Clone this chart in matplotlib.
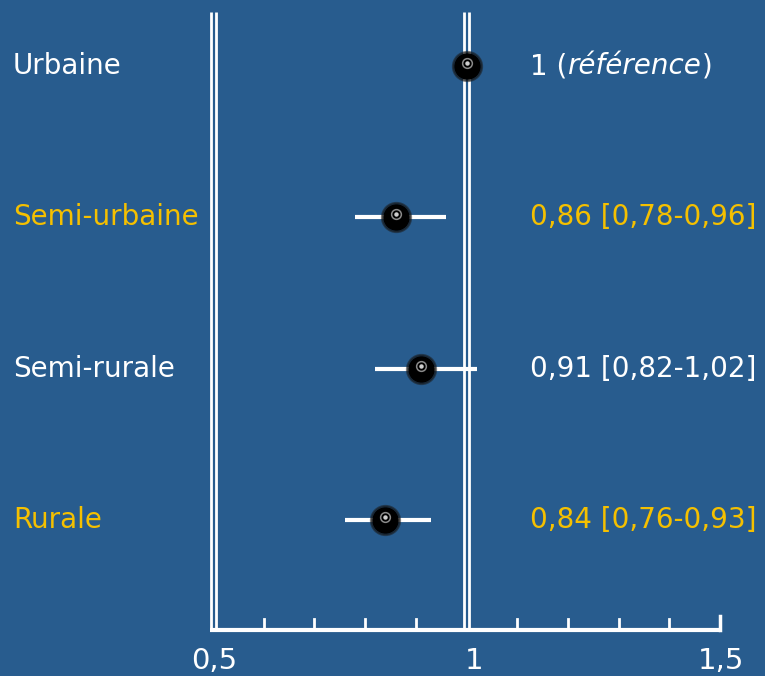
import numpy as np
import matplotlib
matplotlib.use("Agg")
from matplotlib import pyplot as plt

# odds ratios by area type
categories = ["Urbaine", "Semi-urbaine", "Semi-rurale", "Rurale"]
odds = [1.0, 0.86, 0.91, 0.84]
ci_low = [None, 0.78, 0.82, 0.76]
ci_high = [None, 0.96, 1.02, 0.93]
labels = ["1 (", "0,86 [0,78-0,96]", "0,91 [0,82-1,02]", "0,84 [0,76-0,93]"]
tick_values = [0.5, 1.0, 1.5]
tick_labels = ["0,5", "1", "1,5"]
minor_ticks = [0.6, 0.7, 0.8, 0.9, 1.1, 1.2, 1.3, 1.4]

bg = "#285c8e"
yellow = "#f5c000"
row_colors = ["white", yellow, "white", yellow]
fs = 20

W, H = 765, 676
fig = plt.figure(figsize=(W / 100, H / 100), dpi=100, facecolor=bg)
ax = fig.add_axes([0, 0, 1, 1])
ax.set_facecolor(bg)
ax.axis("off")

# pixel mapping: 0.5 -> 213 px, 1.5 -> 720 px ; rows every ~151 px from y=66
sx = 507.0
x0 = 0.5 - 213 / sx
x1 = 0.5 + (W - 213) / sx
sy = 151.3
ax.set_xlim(x0, x1)
ax.set_ylim((H - 66) / sy, -66 / sy)

def px(p):
    return x0 + p / sx

def py(p):
    return (p - 66) / sy

y_top = py(12)
y_base = py(630)

# double vertical lines at 0.5 and 1
for xv in [0.5, 1.0]:
    for d in [-2.5, 2.5]:
        ax.plot([xv + d / sx, xv + d / sx], [y_top, y_base], color="white", lw=2.0,
                solid_capstyle="butt")

# axis baseline and ticks
ax.plot([0.5 - 3 / sx, 1.5], [y_base, y_base], color="white", lw=3.0, solid_capstyle="butt")
ax.plot([1.5, 1.5], [y_base, py(616)], color="white", lw=2.5)
for t in minor_ticks:
    ax.plot([t, t], [y_base, py(619)], color="white", lw=2.0)

label_shift = [1, 8, 1]
for v, lab, s in zip(tick_values, tick_labels, label_shift):
    ax.text(v + s / sx, py(661), lab, color="white", fontsize=21, ha="center", va="center",
            family="DejaVu Sans")

for i, cat in enumerate(categories):
    ax.text(px(13), i, cat, color=row_colors[i], fontsize=fs, ha="left", va="center",
            family="DejaVu Sans")
    if ci_low[i] is not None:
        ax.plot([ci_low[i], ci_high[i]], [i, i], color="white", lw=3.0, solid_capstyle="butt",
                zorder=3)
    # fuzzy black dot with a small grey ring in the middle
    ax.plot(odds[i], i, "o", ms=21, color="#111111", mec="#1a1a1a", mew=1.5, alpha=0.55, zorder=4)
    ax.plot(odds[i], i, "o", ms=18, color="black", zorder=5)
    ax.plot(odds[i], i - 3 / sy, "o", ms=7, mfc="none", mec="#8a8a8a", mew=1.1, zorder=6)
    ax.plot(odds[i], i - 3 / sy, "o", ms=2.2, color="#cfcfcf", zorder=6)

# right-hand estimates
t1 = ax.text(px(530), 0, "1 (", color="white", fontsize=fs, ha="left", va="center",
             family="DejaVu Sans")
fig.canvas.draw()
r = fig.canvas.get_renderer()
bb = t1.get_window_extent(r)
t2 = ax.text(px(bb.x1), 0, "référence", color="white", fontsize=fs, ha="left", va="center",
             family="DejaVu Sans", style="italic")
bb2 = t2.get_window_extent(r)
ax.text(px(bb2.x1 + 1), 0, ")", color="white", fontsize=fs, ha="left", va="center",
        family="DejaVu Sans")
for i in range(1, 4):
    ax.text(px(530), i, labels[i], color=row_colors[i], fontsize=fs, ha="left", va="center",
            family="DejaVu Sans")

fig.savefig("out.png", dpi=100, facecolor=bg)
